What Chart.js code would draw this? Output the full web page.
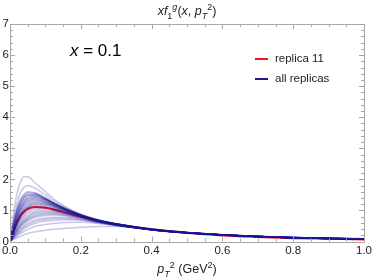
<!DOCTYPE html>
<html><head><meta charset="utf-8">
<script src="https://cdn.jsdelivr.net/npm/chart.js@4.4.0/dist/chart.umd.min.js"></script>
<style>html,body{margin:0;padding:0;background:#fff}#c{display:block}</style>
</head><body>
<canvas id="c" width="374" height="279"></canvas>
<script>
// p_T^2 grid (GeV^2)
const pT2 = [0, 0.01, 0.02, 0.03, 0.04, 0.05, 0.07, 0.1, 0.13, 0.16, 0.2, 0.25, 0.3, 0.4, 0.5, 0.6, 0.7, 0.8, 0.9, 1.0];
// replica 11
const replica11 = [0, 0.34, 0.62, 0.84, 0.97, 1.05, 1.11, 1.09, 1.01, 0.92, 0.8, 0.66, 0.55, 0.39, 0.28, 0.2, 0.15, 0.11, 0.09, 0.07];
// all replicas
const rep01 = [0, 0.9, 1.55, 1.92, 2.08, 2.08, 1.9, 1.6, 1.32, 1.1, 0.88, 0.7, 0.57, 0.4, 0.29, 0.22, 0.17, 0.13, 0.11, 0.09];
const rep02 = [0, 0.7, 1.25, 1.58, 1.75, 1.8, 1.72, 1.5, 1.27, 1.07, 0.87, 0.69, 0.57, 0.4, 0.29, 0.22, 0.17, 0.13, 0.11, 0.09];
const rep03 = [0, 0.6, 1.08, 1.38, 1.53, 1.6, 1.57, 1.4, 1.2, 1.03, 0.85, 0.68, 0.56, 0.4, 0.29, 0.22, 0.17, 0.13, 0.1, 0.085];
const rep04 = [0, 0.55, 1.0, 1.28, 1.45, 1.53, 1.53, 1.38, 1.2, 1.03, 0.85, 0.68, 0.56, 0.39, 0.29, 0.22, 0.16, 0.13, 0.1, 0.085];
const rep05 = [0, 0.5, 0.95, 1.22, 1.4, 1.48, 1.49, 1.36, 1.19, 1.03, 0.85, 0.68, 0.56, 0.39, 0.28, 0.21, 0.16, 0.13, 0.1, 0.08];
const rep06 = [0, 0.45, 0.85, 1.12, 1.3, 1.4, 1.45, 1.35, 1.18, 1.02, 0.85, 0.68, 0.56, 0.39, 0.28, 0.21, 0.16, 0.13, 0.1, 0.08];
const rep07 = [0, 0.42, 0.8, 1.06, 1.23, 1.33, 1.4, 1.33, 1.17, 1.02, 0.85, 0.68, 0.56, 0.39, 0.28, 0.21, 0.16, 0.13, 0.1, 0.08];
const rep08 = [0, 0.4, 0.75, 1.0, 1.17, 1.27, 1.34, 1.28, 1.14, 1.0, 0.84, 0.67, 0.56, 0.39, 0.28, 0.21, 0.16, 0.13, 0.1, 0.08];
const rep09 = [0, 0.36, 0.68, 0.92, 1.08, 1.19, 1.28, 1.25, 1.13, 0.99, 0.84, 0.67, 0.55, 0.39, 0.28, 0.21, 0.16, 0.12, 0.1, 0.08];
const rep10 = [0, 0.33, 0.62, 0.85, 1.01, 1.12, 1.22, 1.21, 1.1, 0.98, 0.83, 0.67, 0.55, 0.39, 0.28, 0.21, 0.16, 0.12, 0.1, 0.08];
const rep11 = [0, 0.3, 0.58, 0.8, 0.95, 1.06, 1.17, 1.17, 1.08, 0.97, 0.82, 0.66, 0.55, 0.38, 0.28, 0.21, 0.16, 0.12, 0.1, 0.08];
const rep12 = [0, 0.28, 0.54, 0.74, 0.89, 1.0, 1.11, 1.13, 1.06, 0.96, 0.82, 0.66, 0.55, 0.38, 0.28, 0.21, 0.16, 0.12, 0.1, 0.08];
const rep13 = [0, 0.24, 0.47, 0.65, 0.79, 0.89, 1.0, 1.04, 1.0, 0.92, 0.8, 0.65, 0.54, 0.38, 0.28, 0.21, 0.16, 0.12, 0.1, 0.08];
const rep14 = [0, 0.22, 0.42, 0.59, 0.72, 0.82, 0.94, 0.99, 0.96, 0.9, 0.79, 0.65, 0.54, 0.38, 0.28, 0.21, 0.16, 0.12, 0.1, 0.08];
const rep15 = [0, 0.19, 0.37, 0.52, 0.64, 0.74, 0.85, 0.91, 0.91, 0.86, 0.77, 0.64, 0.53, 0.38, 0.28, 0.21, 0.16, 0.12, 0.1, 0.08];
const rep16 = [0, 0.16, 0.32, 0.46, 0.57, 0.66, 0.77, 0.84, 0.85, 0.82, 0.75, 0.63, 0.53, 0.38, 0.28, 0.21, 0.16, 0.12, 0.1, 0.08];
const rep17 = [0, 0.14, 0.28, 0.4, 0.5, 0.58, 0.69, 0.76, 0.78, 0.77, 0.72, 0.62, 0.52, 0.38, 0.28, 0.21, 0.16, 0.12, 0.1, 0.08];
const rep18 = [0, 0.11, 0.22, 0.32, 0.41, 0.48, 0.58, 0.66, 0.69, 0.7, 0.68, 0.6, 0.52, 0.38, 0.28, 0.21, 0.16, 0.12, 0.1, 0.08];
const rep19 = [0, 0.09, 0.18, 0.26, 0.33, 0.39, 0.48, 0.55, 0.59, 0.61, 0.62, 0.58, 0.51, 0.38, 0.28, 0.21, 0.16, 0.12, 0.1, 0.08];
const rep20 = [0, 0.06, 0.12, 0.17, 0.22, 0.26, 0.31, 0.36, 0.4, 0.43, 0.46, 0.48, 0.48, 0.38, 0.28, 0.21, 0.16, 0.12, 0.1, 0.08];
const rep21 = [0, 0.58, 1.05, 1.34, 1.5, 1.58, 1.56, 1.4, 1.21, 1.04, 0.86, 0.69, 0.57, 0.4, 0.29, 0.22, 0.17, 0.13, 0.1, 0.085];
const rep22 = [0, 0.52, 0.97, 1.25, 1.42, 1.5, 1.51, 1.37, 1.2, 1.03, 0.85, 0.68, 0.56, 0.39, 0.29, 0.22, 0.16, 0.13, 0.1, 0.085];
const rep23 = [0, 0.47, 0.88, 1.16, 1.34, 1.43, 1.47, 1.36, 1.19, 1.03, 0.85, 0.68, 0.56, 0.39, 0.28, 0.21, 0.16, 0.13, 0.1, 0.08];
const rep24 = [0, 0.44, 0.83, 1.09, 1.27, 1.37, 1.42, 1.34, 1.18, 1.02, 0.85, 0.68, 0.56, 0.39, 0.28, 0.21, 0.16, 0.13, 0.1, 0.08];
const rep25 = [0, 0.41, 0.77, 1.03, 1.2, 1.3, 1.37, 1.3, 1.15, 1.01, 0.84, 0.67, 0.56, 0.39, 0.28, 0.21, 0.16, 0.13, 0.1, 0.08];
const rep26 = [0, 0.38, 0.71, 0.96, 1.12, 1.23, 1.31, 1.27, 1.14, 1.0, 0.84, 0.67, 0.55, 0.39, 0.28, 0.21, 0.16, 0.12, 0.1, 0.08];
const rep27 = [0, 0.35, 0.65, 0.88, 1.04, 1.15, 1.25, 1.23, 1.12, 0.99, 0.84, 0.67, 0.55, 0.39, 0.28, 0.21, 0.16, 0.12, 0.1, 0.08];
const rep28 = [0, 0.31, 0.6, 0.82, 0.98, 1.09, 1.19, 1.19, 1.09, 0.97, 0.83, 0.66, 0.55, 0.38, 0.28, 0.21, 0.16, 0.12, 0.1, 0.08];
const rep29 = [0, 0.26, 0.5, 0.7, 0.84, 0.95, 1.06, 1.09, 1.03, 0.94, 0.81, 0.66, 0.55, 0.38, 0.28, 0.21, 0.16, 0.12, 0.1, 0.08];
const rep30 = [0, 0.2, 0.4, 0.56, 0.68, 0.78, 0.9, 0.95, 0.94, 0.88, 0.78, 0.64, 0.54, 0.38, 0.28, 0.21, 0.16, 0.12, 0.1, 0.08];
const rep31 = [0, 0.17, 0.34, 0.49, 0.61, 0.7, 0.81, 0.88, 0.88, 0.84, 0.76, 0.63, 0.53, 0.38, 0.28, 0.21, 0.16, 0.12, 0.1, 0.08];
const rep32 = [0, 0.13, 0.25, 0.36, 0.46, 0.53, 0.64, 0.71, 0.74, 0.74, 0.7, 0.61, 0.52, 0.38, 0.28, 0.21, 0.16, 0.12, 0.1, 0.08];
const replicas = [rep01, rep02, rep03, rep04, rep05, rep06, rep07, rep08, rep09, rep10, rep11, rep12, rep13, rep14, rep15, rep16,
  rep17, rep18, rep19, rep20, rep21, rep22, rep23, rep24, rep25, rep26, rep27, rep28, rep29, rep30, rep31, rep32];
const xTickLabels = ["0.0", "0.2", "0.4", "0.6", "0.8", "1.0"];
const yTickLabels = ["0", "1", "2", "3", "4", "5", "6", "7"];
const legendLabels = ["replica 11", "all replicas"];
const panelLabel = "x = 0.1";

const toPts = arr => arr.map((v, i) => ({x: pT2[i], y: v}));
const datasets = replicas.map(r => ({
  data: toPts(r), borderColor: 'rgba(25,25,150,0.24)', borderWidth: 1.5,
  pointRadius: 0, cubicInterpolationMode: 'monotone', fill: false
}));
datasets.push({data: toPts(replica11), borderColor: '#f0141e', borderWidth: 2.2,
  pointRadius: 0, cubicInterpolationMode: 'monotone', fill: false});

const FONT = '"Liberation Sans", Arial, sans-serif';
const TXT = '#222';

function drawRich(ctx, parts, cx, baseline, size, align) {
  const fontOf = p => ((p.i ? 'italic ' : '') + ((p.sub || p.sup) ? size * 0.72 : size) + 'px ' + FONT);
  let total = 0;
  parts.forEach(p => { ctx.font = fontOf(p); total += ctx.measureText(p.t).width; });
  let x = align === 'left' ? cx : cx - total / 2;
  parts.forEach(p => {
    ctx.font = fontOf(p);
    const y = baseline + (p.sub ? size * 0.28 : 0) - (p.sup ? size * 0.42 : 0);
    ctx.fillText(p.t, x, y);
    x += ctx.measureText(p.t).width;
  });
}

const framePlugin = {
  id: 'frame',
  afterDatasetsDraw(chart) {
    const {ctx, chartArea: a, scales: {x, y}} = chart;
    ctx.save();
    ctx.strokeStyle = '#a6a6a6'; ctx.lineWidth = 1;
    ctx.strokeRect(Math.round(a.left) + 0.5, Math.round(a.top) + 0.5,
      Math.round(a.right - a.left), Math.round(a.bottom - a.top));
    ctx.beginPath();
    for (let k = 0; k <= 20; k++) {
      const px = Math.round(x.getPixelForValue(k * 0.05)) + 0.5;
      const L = (k % 4 === 0) ? 5 : 3;
      ctx.moveTo(px, a.bottom); ctx.lineTo(px, a.bottom - L);
      ctx.moveTo(px, a.top); ctx.lineTo(px, a.top + L);
    }
    for (let k = 0; k <= 35; k++) {
      const py = Math.round(y.getPixelForValue(k * 0.2)) + 0.5;
      const L = (k % 5 === 0) ? 5 : 3;
      ctx.moveTo(a.left, py); ctx.lineTo(a.left + L, py);
      ctx.moveTo(a.right, py); ctx.lineTo(a.right - L, py);
    }
    ctx.stroke();
    ctx.restore();
  },
  afterDraw(chart) {
    const {ctx} = chart;
    ctx.save();
    ctx.fillStyle = TXT; ctx.textBaseline = 'alphabetic'; ctx.textAlign = 'left';
    drawRich(ctx, [{t: 'xf', i: 1}, {t: '1', sub: 1}, {t: 'g', i: 1, sup: 1}, {t: '('}, {t: 'x', i: 1}, {t: ', '}, {t: 'p', i: 1}, {t: 'T', i: 1, sub: 1}, {t: '2', sup: 1}, {t: ')'}], 187, 15, 12.5);
    drawRich(ctx, [{t: 'p', i: 1}, {t: 'T', i: 1, sub: 1}, {t: '2', sup: 1}, {t: ' (GeV'}, {t: '2', sup: 1}, {t: ')'}], 187, 273, 12.5);
    ctx.fillStyle = '#000';
    drawRich(ctx, [{t: 'x', i: 1}, {t: panelLabel.slice(1)}], 70, 56, 17, 'left');
    const items = [[legendLabels[0], '#f0141e', 59], [legendLabels[1], '#1c1c8c', 79]];
    items.forEach(([lab, col, yy]) => {
      ctx.strokeStyle = col; ctx.lineWidth = 2;
      ctx.beginPath(); ctx.moveTo(255, yy); ctx.lineTo(268, yy); ctx.stroke();
      ctx.fillStyle = TXT; ctx.font = '11.5px ' + FONT;
      ctx.textBaseline = 'middle';
      ctx.fillText(lab, 275, yy);
    });
    ctx.restore();
  }
};

new Chart(document.getElementById('c'), {
  type: 'line',
  data: {datasets},
  options: {
    responsive: false, animation: false, devicePixelRatio: 1,
    layout: {padding: {top: 24, right: 9, left: 0, bottom: 0}},
    plugins: {legend: {display: false}, tooltip: {enabled: false}},
    scales: {
      x: {
        type: 'linear', min: 0, max: 1,
        grid: {display: false, drawTicks: false}, border: {display: false},
        afterBuildTicks: s => { s.ticks = xTickLabels.map(t => ({value: parseFloat(t)})); },
        afterFit: s => { s.height = 37.5; },
        ticks: {padding: 2, color: TXT, font: {family: FONT, size: 11.5}, maxRotation: 0,
          callback: (v, i) => xTickLabels[i]}
      },
      y: {
        type: 'linear', min: 0, max: 7,
        grid: {display: false, drawTicks: false}, border: {display: false},
        afterBuildTicks: s => { s.ticks = yTickLabels.map(t => ({value: parseFloat(t)})); },
        afterFit: s => { s.width = 8.5; },
        ticks: {padding: 1, color: TXT, font: {family: FONT, size: 11.5},
          callback: (v, i) => yTickLabels[i]}
      }
    }
  },
  plugins: [framePlugin]
});
</script>
</body></html>
